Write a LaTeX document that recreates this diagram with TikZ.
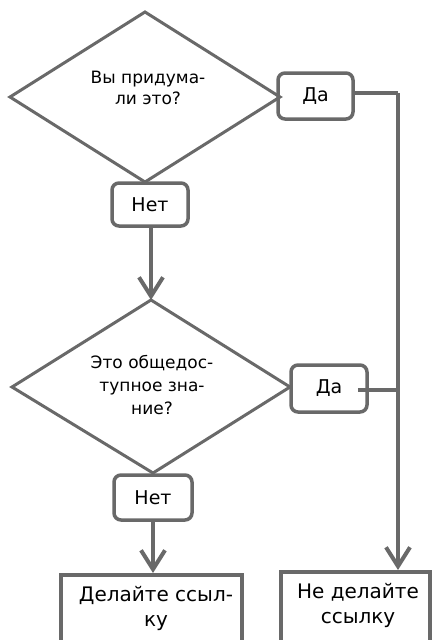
\documentclass[tikz,border=0pt]{standalone}
\usepackage{fontspec}
\setmainfont{DejaVu Sans}
\usetikzlibrary{shapes.geometric,arrows.meta}
\definecolor{ln}{RGB}{105,105,105}
\begin{document}
\begin{tikzpicture}[x=1pt,y=-1pt,
  dtext/.style={align=center,font=\fontsize{17}{21}\selectfont},
  small/.style={draw=ln,line width=3.5pt,rounded corners=7pt,inner sep=0pt,font=\fontsize{19}{22}\selectfont},
  big/.style={draw=ln,line width=3.5pt,inner sep=0pt,align=center,text width=#1,font=\fontsize{20}{25}\selectfont},
  conn/.style={draw=ln,line width=4.5pt},
  arr/.style={conn,-{Straight Barb[length=19pt,width=24pt,line width=4pt]}}
]
\useasboundingbox (0,0) rectangle (433,640);
\clip (0,0) rectangle (433,640);
% first decision
\draw[ln,line width=3pt] (145,12) coordinate (d1n) -- (280,97) coordinate (d1e) -- (145,182) coordinate (d1s) -- (10,97) coordinate (d1w) -- cycle;
\node[dtext] (d1t) at (148,88) {Вы придума-\\ли это?};
\node[small,minimum width=75pt,minimum height=46pt] (da1) at (315.5,96) {Да};
\node[small,minimum width=76pt,minimum height=43pt] (net1) at (150,204.5) {Нет};
% second decision
\draw[ln,line width=3pt] (151,300) coordinate (d2n) -- (290,387) coordinate (d2e) -- (153,473) coordinate (d2s) -- (12,387) coordinate (d2w) -- cycle;
\node[dtext,font=\fontsize{17}{23}\selectfont] (d2t) at (152,385) {Это общедос-\\тупное зна-\\ние?};
\node[small,minimum width=76pt,minimum height=47pt] (da2) at (329,388.5) {Да};
\node[small,minimum width=78pt,minimum height=45pt] (net2) at (153,497.5) {Нет};
% results
\node[big=181pt,minimum height=120pt,anchor=north] (r1) at (151.5,573) {};
\node[big=149pt,minimum height=120pt,anchor=north] (r2) at (355.5,570) {};
\node[align=center,font=\fontsize{20}{25}\selectfont,anchor=north] (r1t) at (156,583) {Делайте ссыл-\\ку};
\node[align=center,font=\fontsize{20}{25}\selectfont,anchor=north] (r2t) at (358,580) {Не делайте\\ссылку};
% connectors
\coordinate (c1) at (398,93);
\coordinate (c2) at (398,390);
\draw[arr] (net1.south -| d2n) -- (d2n);
\draw[arr] (net2.south) -- (net2.south |- r1.north);
\draw[conn] (da1.east |- c1) -- (c1);
\draw[arr] (c1) -- (c1 |- r2.north);
\draw[conn] ([xshift=-11pt]da2.east |- c2) -- (c2);
\end{tikzpicture}
\end{document}
